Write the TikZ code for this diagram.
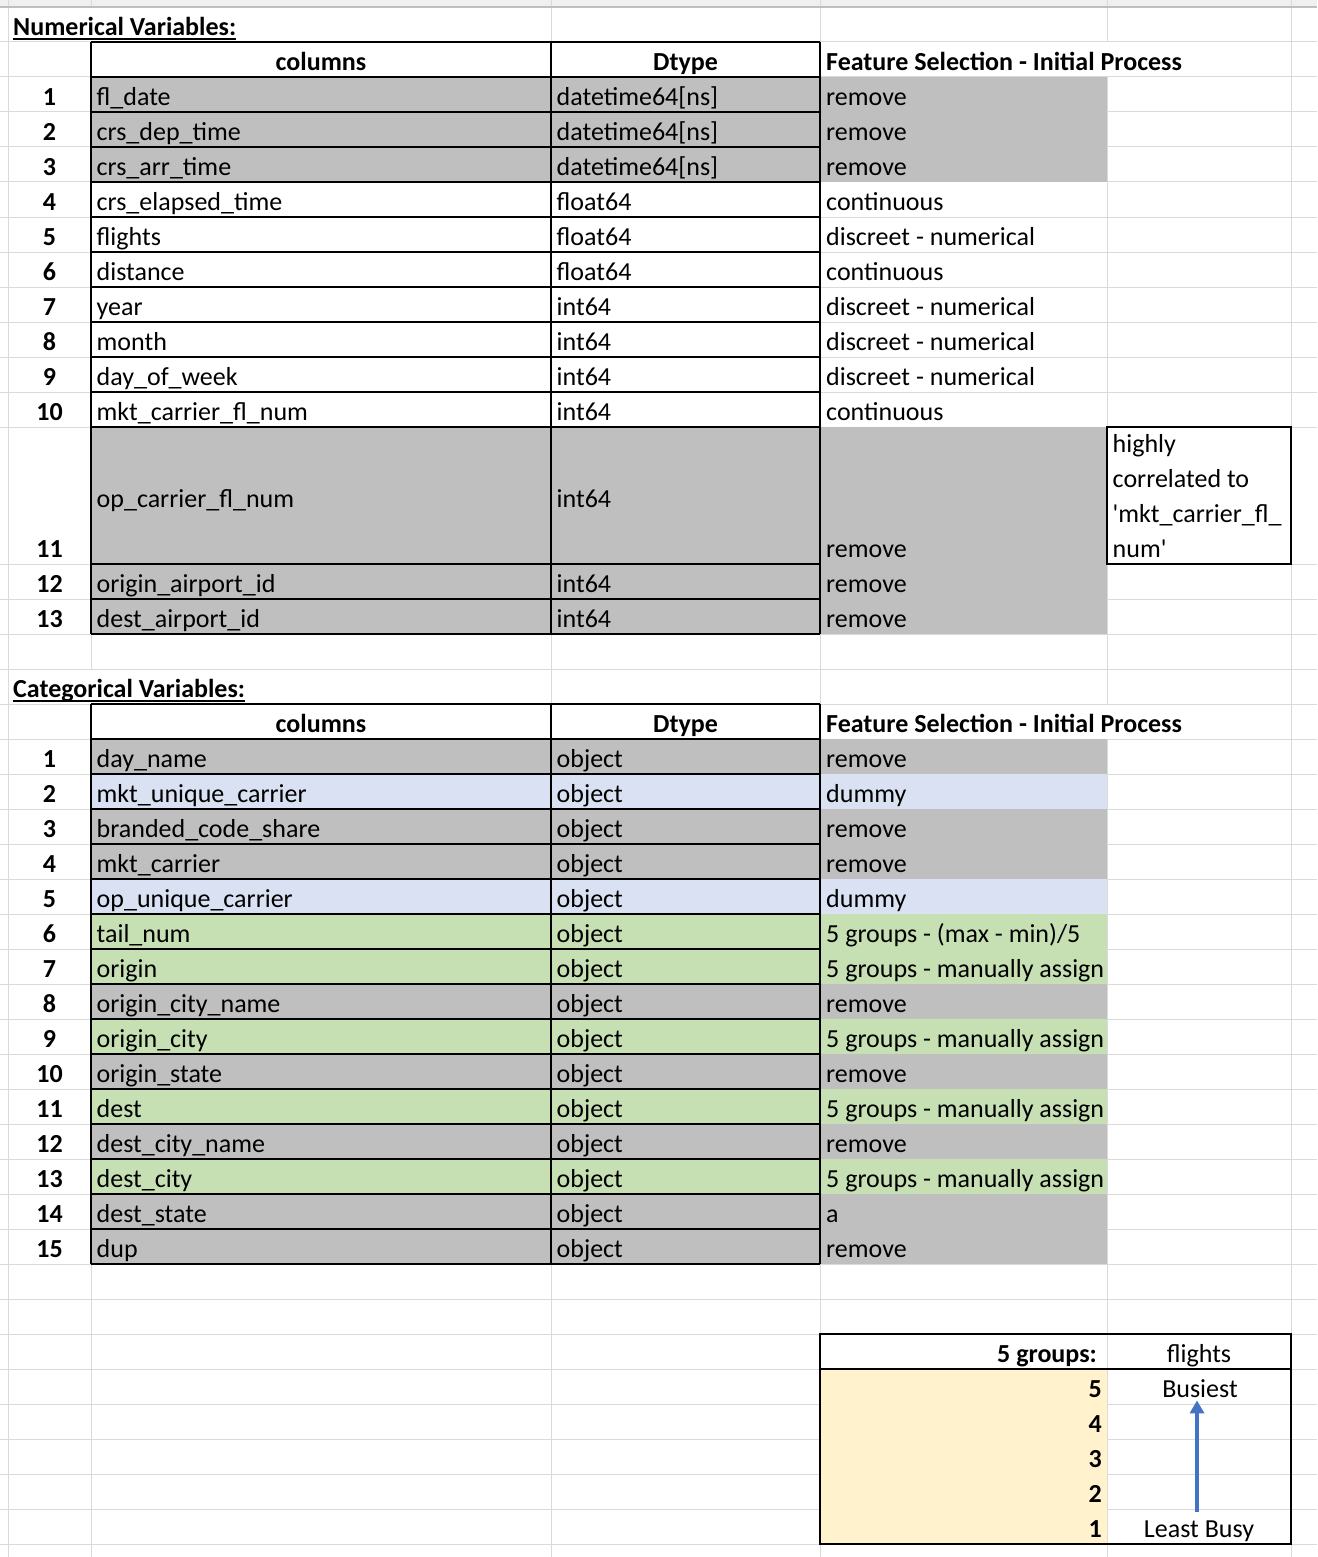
\documentclass[tikz,border=0pt]{standalone}
\usepackage{fontspec}
\setmainfont{Carlito}
\usetikzlibrary{positioning, calc, arrows.meta}
\definecolor{cellgray}{RGB}{191,191,191}
\definecolor{cellblue}{RGB}{217,225,242}
\definecolor{cellgreen}{RGB}{198,224,180}
\definecolor{cellyellow}{RGB}{255,242,204}
\definecolor{gridgray}{RGB}{218,218,218}
\definecolor{topband}{RGB}{240,240,240}
\definecolor{sepgray}{RGB}{190,190,190}
\definecolor{arrowblue}{RGB}{68,114,196}
\newcommand{\xlfont}{\fontsize{26pt}{30pt}\selectfont}
\tikzset{
  gridline/.style={draw=gridgray, line width=1pt},
  border/.style={draw=black, line width=1.3pt},
  txt/.style={font=\xlfont, inner sep=0pt, anchor=base west},
  ctr/.style={font=\xlfont, inner sep=0pt, anchor=base},
  hdr/.style={font=\xlfont\bfseries, inner sep=0pt, anchor=base},
  hdrl/.style={font=\xlfont\bfseries, inner sep=0pt, anchor=base west},
  hdrr/.style={font=\xlfont\bfseries, inner sep=0pt, anchor=base east},
  titleline/.style={line width=2pt},
  trend/.style={draw=arrowblue, line width=4pt, -{Triangle[width=14pt, length=13pt]}}
}

\begin{document}
\begin{tikzpicture}[x=1pt, y=-1pt]
\useasboundingbox (0,0) rectangle (1317,1557);
% sheet grid
\fill[topband] (0,0) rectangle (1317,7);
\foreach \x in {8,551,820,1291} \draw[gridline] (\x,0) -- (\x,1557);
\draw[gridline] (91,0) -- (91,7) (91,42) -- (91,669) (91,704) -- (91,1557);
\draw[gridline] (1107,0) -- (1107,42) (1107,77) -- (1107,704) (1107,739) -- (1107,1557);
\foreach \y in {42,77,...,427} \draw[gridline] (0,\y) -- (1317,\y);
\foreach \y in {564,599,...,1544} \draw[gridline] (0,\y) -- (1317,\y);
\draw[sepgray, line width=1.2pt] (0,7) -- (1317,7);

% numerical variables
\node[hdrl] (numtitle) at (13,35.5) {Numerical Variables:};
\draw[titleline] ([yshift=-4pt]numtitle.base west) -- ([yshift=-4pt]numtitle.base east);
\node[hdr] (numhead-col) at (321,70.5) {columns};
\node[hdr] (numhead-type) at (685.5,70.5) {Dtype};
\node[hdrl] (numhead-sel) at (826,70.5) {Feature Selection - Initial Process};
\fill[cellgray] (91,77) rectangle (1107,182);
\fill[cellgray] (91,427) rectangle (1107,634);
\foreach \name/\dtype/\sel [count=\i] in {fl\_date/datetime64[ns]/remove, crs\_dep\_time/datetime64[ns]/remove, crs\_arr\_time/datetime64[ns]/remove, crs\_elapsed\_time/float64/continuous, flights/float64/discreet - numerical, distance/float64/continuous, year/int64/discreet - numerical, month/int64/discreet - numerical, day\_of\_week/int64/discreet - numerical, mkt\_carrier\_fl\_num/int64/continuous}
{
  \pgfmathsetmacro{\b}{77+35*\i-6.5}
  \node[hdr] (numrow-\i) at (49.5,\b) {\i};
  \node[txt] (numcol-\i) at (96.5,\b) {\name};
  \node[txt] (numtype-\i) at (556.5,\b) {\dtype};
  \node[txt] (numsel-\i) at (826,\b) {\sel};
}
\node[hdr] (numrow-11) at (49.5,557.5) {11};
\node[txt] (numcol-11) at (96.5,507) {op\_carrier\_fl\_num};
\node[txt] (numtype-11) at (556.5,507) {int64};
\node[txt] (numsel-11) at (826,557.5) {remove};
\foreach \name [count=\i from 12] in {origin\_airport\_id, dest\_airport\_id}
{
  \pgfmathsetmacro{\b}{564+35*(\i-11)-6.5}
  \node[hdr] (numrow-\i) at (49.5,\b) {\i};
  \node[txt] (numcol-\i) at (96.5,\b) {\name};
  \node[txt] (numtype-\i) at (556.5,\b) {int64};
  \node[txt] (numsel-\i) at (826,\b) {remove};
}
\fill[white] (1107,427) rectangle (1291,564);
\foreach \t [count=\k] in {highly, correlated to, \textquotesingle mkt\_carrier\_fl\_, num\textquotesingle}
  \node[txt] (note-\k) at (1112.5,417.5+35*\k) {\t};
\draw[border] (1107,427) rectangle (1291,564);
\foreach \y in {42,77,...,427} \draw[border] (91,\y) -- (820,\y);
\foreach \y in {564,599,634} \draw[border] (91,\y) -- (820,\y);
\foreach \x in {91,551,820} \draw[border] (\x,42) -- (\x,634);

% categorical variables
\node[hdrl] (cattitle) at (13,697.5) {Categorical Variables:};
\draw[titleline] ([yshift=-3pt]cattitle.base west) -- ([yshift=-3pt]cattitle.base east);
\node[hdr] (cathead-col) at (321,732.5) {columns};
\node[hdr] (cathead-type) at (685.5,732.5) {Dtype};
\node[hdrl] (cathead-sel) at (826,732.5) {Feature Selection - Initial Process};
\foreach \name/\sel/\fc [count=\i] in {day\_name/remove/cellgray, mkt\_unique\_carrier/dummy/cellblue, branded\_code\_share/remove/cellgray, mkt\_carrier/remove/cellgray, op\_unique\_carrier/dummy/cellblue, tail\_num/{5 groups - (max - min)/5}/cellgreen, origin/5 groups - manually assign/cellgreen, origin\_city\_name/remove/cellgray, origin\_city/5 groups - manually assign/cellgreen, origin\_state/remove/cellgray, dest/5 groups - manually assign/cellgreen, dest\_city\_name/remove/cellgray, dest\_city/5 groups - manually assign/cellgreen, dest\_state/a/cellgray, dup/remove/cellgray}
{
  \pgfmathsetmacro{\t}{739+35*(\i-1)}
  \pgfmathsetmacro{\b}{739+35*\i-6.5}
  \fill[\fc] (91,\t) rectangle (1107,\t+35);
  \node[hdr] (catrow-\i) at (49.5,\b) {\i};
  \node[txt] (catcol-\i) at (96.5,\b) {\name};
  \node[txt] (cattype-\i) at (556.5,\b) {object};
  \node[txt] (catsel-\i) at (826,\b) {\sel};
}
\foreach \y in {704,739,...,1264} \draw[border] (91,\y) -- (820,\y);
\foreach \x in {91,551,820} \draw[border] (\x,704) -- (\x,1264);

% 5 groups
\fill[cellyellow] (820,1369) rectangle (1107,1544);
\node[hdrr] (grouphead) at (1097,1362.5) {5 groups:};
\node[ctr] (flighthead) at (1199,1362.5) {flights};
\foreach \g [count=\k] in {5,4,3,2,1}
  \node[hdrr] (group-\g) at (1102,1369+35*\k-6.5) {\g};
\node[ctr] (busiest) at (1200,1397.5) {Busiest};
\node[ctr] (leastbusy) at (1199,1537.5) {Least Busy};
\draw[trend] ([xshift=-2pt,yshift=9pt]leastbusy.north) -- ([xshift=-3pt,yshift=-2.5pt]busiest.south);
\draw[border] (820,1334) rectangle (1291,1544);
\draw[border] (820,1369) -- (1291,1369);
\end{tikzpicture}
\end{document}
